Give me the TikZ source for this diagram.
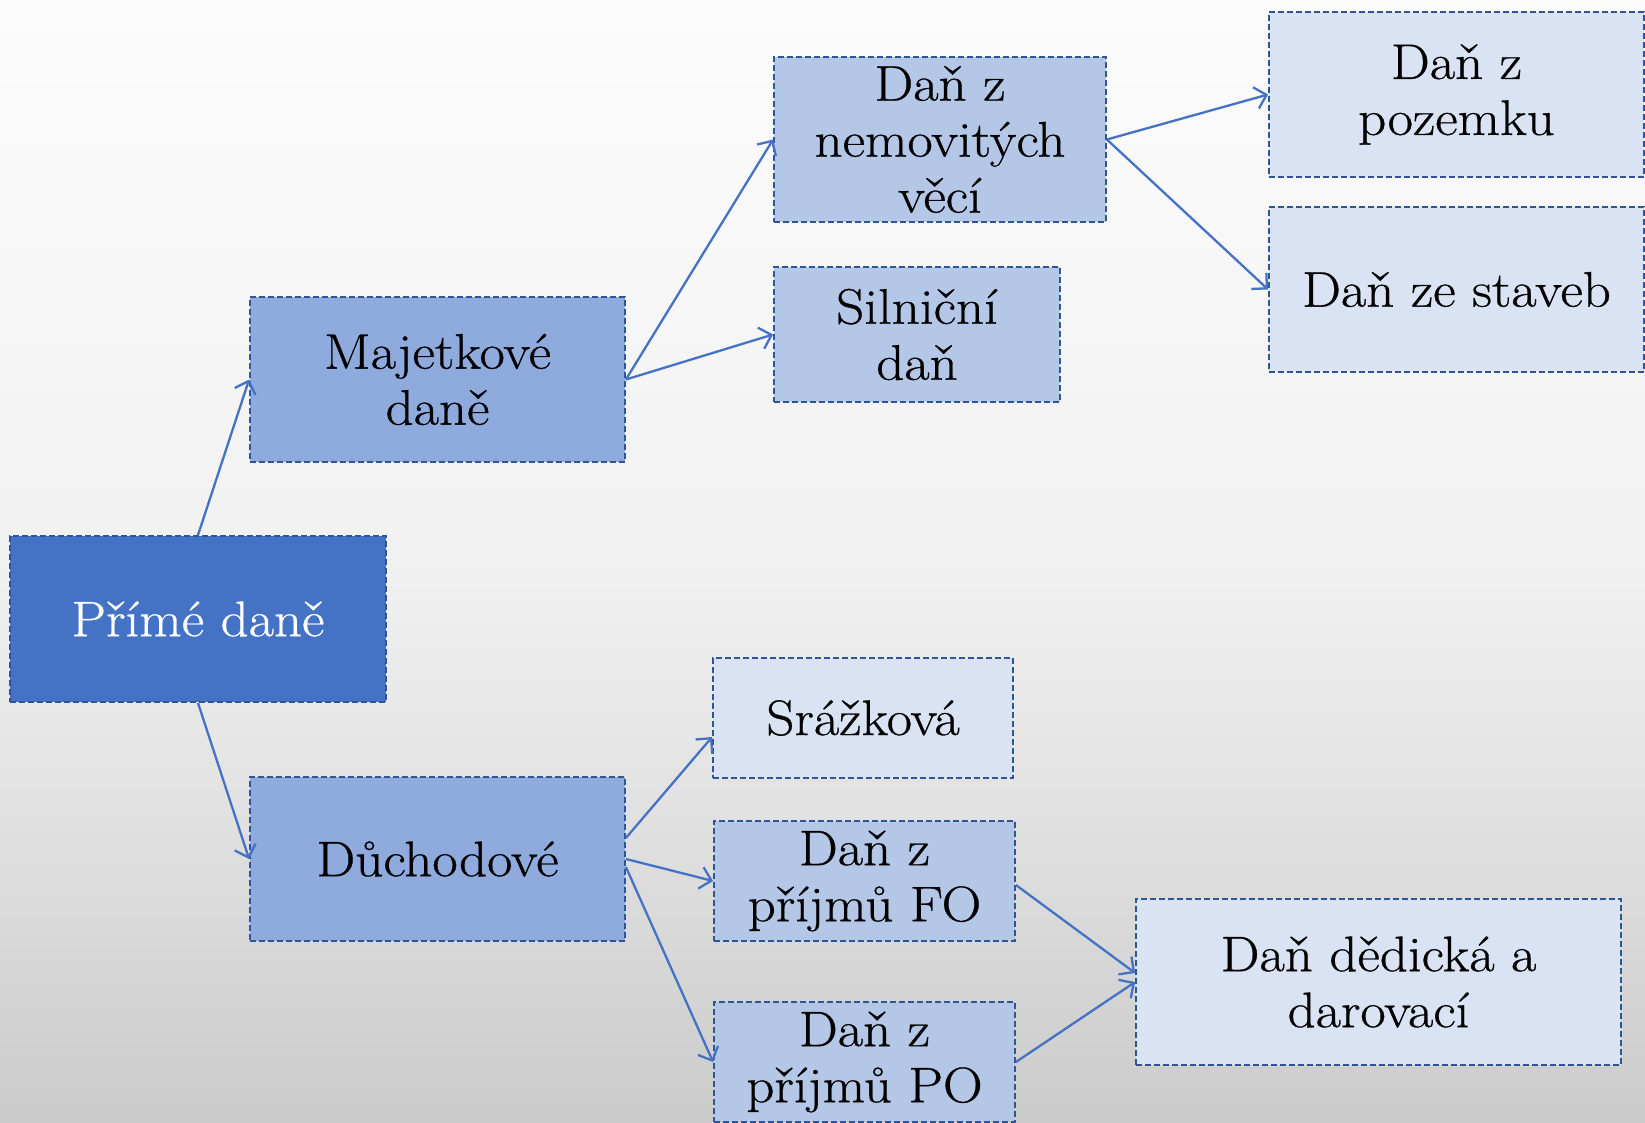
\documentclass[tikz,border=0pt]{standalone}
\usepackage{fontspec}
\setmainfont{Latin Modern Roman}[FakeStretch=1.1,FakeBold=0.6]
\usetikzlibrary{arrows.meta}
\definecolor{acc}{HTML}{4472C4}
\definecolor{levone}{HTML}{8FAADC}
\definecolor{levtwo}{HTML}{B4C7E7}
\definecolor{levthree}{HTML}{DAE3F3}
\definecolor{bord}{HTML}{2F5597}
\definecolor{bgtop}{HTML}{FCFCFC}
\definecolor{bghi}{HTML}{F8F8F8}
\definecolor{bgmid}{HTML}{F1F1F1}
\definecolor{bglow}{HTML}{E6E6E6}
\definecolor{bgbot}{HTML}{CBCBCB}
\pgfdeclareverticalshading{bgshade}{100bp}{color(0bp)=(bgbot); color(25bp)=(bgbot); color(42bp)=(bglow); color(50bp)=(bgmid); color(65bp)=(bghi); color(75bp)=(bgtop); color(100bp)=(bgtop)}
\begin{document}
\begin{tikzpicture}[x=1pt,y=1pt,
  box/.style={draw=bord, dash pattern=on 6pt off 3pt, line width=1.8pt, inner sep=0pt, align=center, font=\fontsize{50}{56}\selectfont, text=black},
  conn/.style={draw=acc, line width=2.3pt, -{Straight Barb[length=11pt,width=22pt]}}]
\shade[shading=bgshade] (0,0) rectangle (1645,1122);
\useasboundingbox (0,0) rectangle (1645,1122);

\node[box, fill=acc, text=white, minimum width=376pt, minimum height=166pt] (prime) at (198,503) {Přímé daně};
\node[box, fill=levone, minimum width=375pt, minimum height=165pt] (majet) at (437.5,742.5) {Majetkové\\daně};
\node[box, fill=levone, minimum width=375pt, minimum height=164pt] (duch) at (437.5,263) {Důchodové};
\node[box, fill=levtwo, minimum width=332pt, minimum height=165pt] (nemov) at (940,982.5) {Daň z\\nemovitých\\věcí};
\node[box, fill=levtwo, minimum width=286pt, minimum height=135pt] (silnic) at (917,787.5) {Silniční\\daň};
\node[box, fill=levthree, minimum width=375pt, minimum height=165pt] (pozem) at (1456.5,1027.5) {Daň z\\pozemku};
\node[box, fill=levthree, minimum width=375pt, minimum height=165pt] (stav) at (1456.5,832.5) {Daň ze staveb};
\node[box, fill=levthree, minimum width=300pt, minimum height=120pt] (srazk) at (863,404) {Srážková};
\node[box, fill=levtwo, minimum width=301pt, minimum height=120pt] (fo) at (864.5,241) {Daň z\\příjmů FO};
\node[box, fill=levtwo, minimum width=301pt, minimum height=120pt] (po) at (864.5,60) {Daň z\\příjmů PO};
\node[box, fill=levthree, minimum width=485pt, minimum height=166pt] (dedic) at (1378.5,140) {Daň dědická a\\darovací};

\draw[conn] (prime.north) -- (majet.west);
\draw[conn] (prime.south) -- (duch.west);
\draw[conn] (majet.east) -- (nemov.west);
\draw[conn] (majet.east) -- (silnic.west);
\draw[conn] (nemov.east) -- (pozem.west);
\draw[conn] (nemov.east) -- (stav.west);
\draw[conn] ([yshift=21pt]duch.east) -- ([yshift=-19pt]srazk.west);
\draw[conn] (duch.east) -- (fo.west);
\draw[conn] ([yshift=-8pt]duch.east) -- (po.west);
\draw[conn] ([yshift=-4pt]fo.east) -- ([yshift=9pt]dedic.west);
\draw[conn] (po.east) -- (dedic.west);
\end{tikzpicture}
\end{document}
